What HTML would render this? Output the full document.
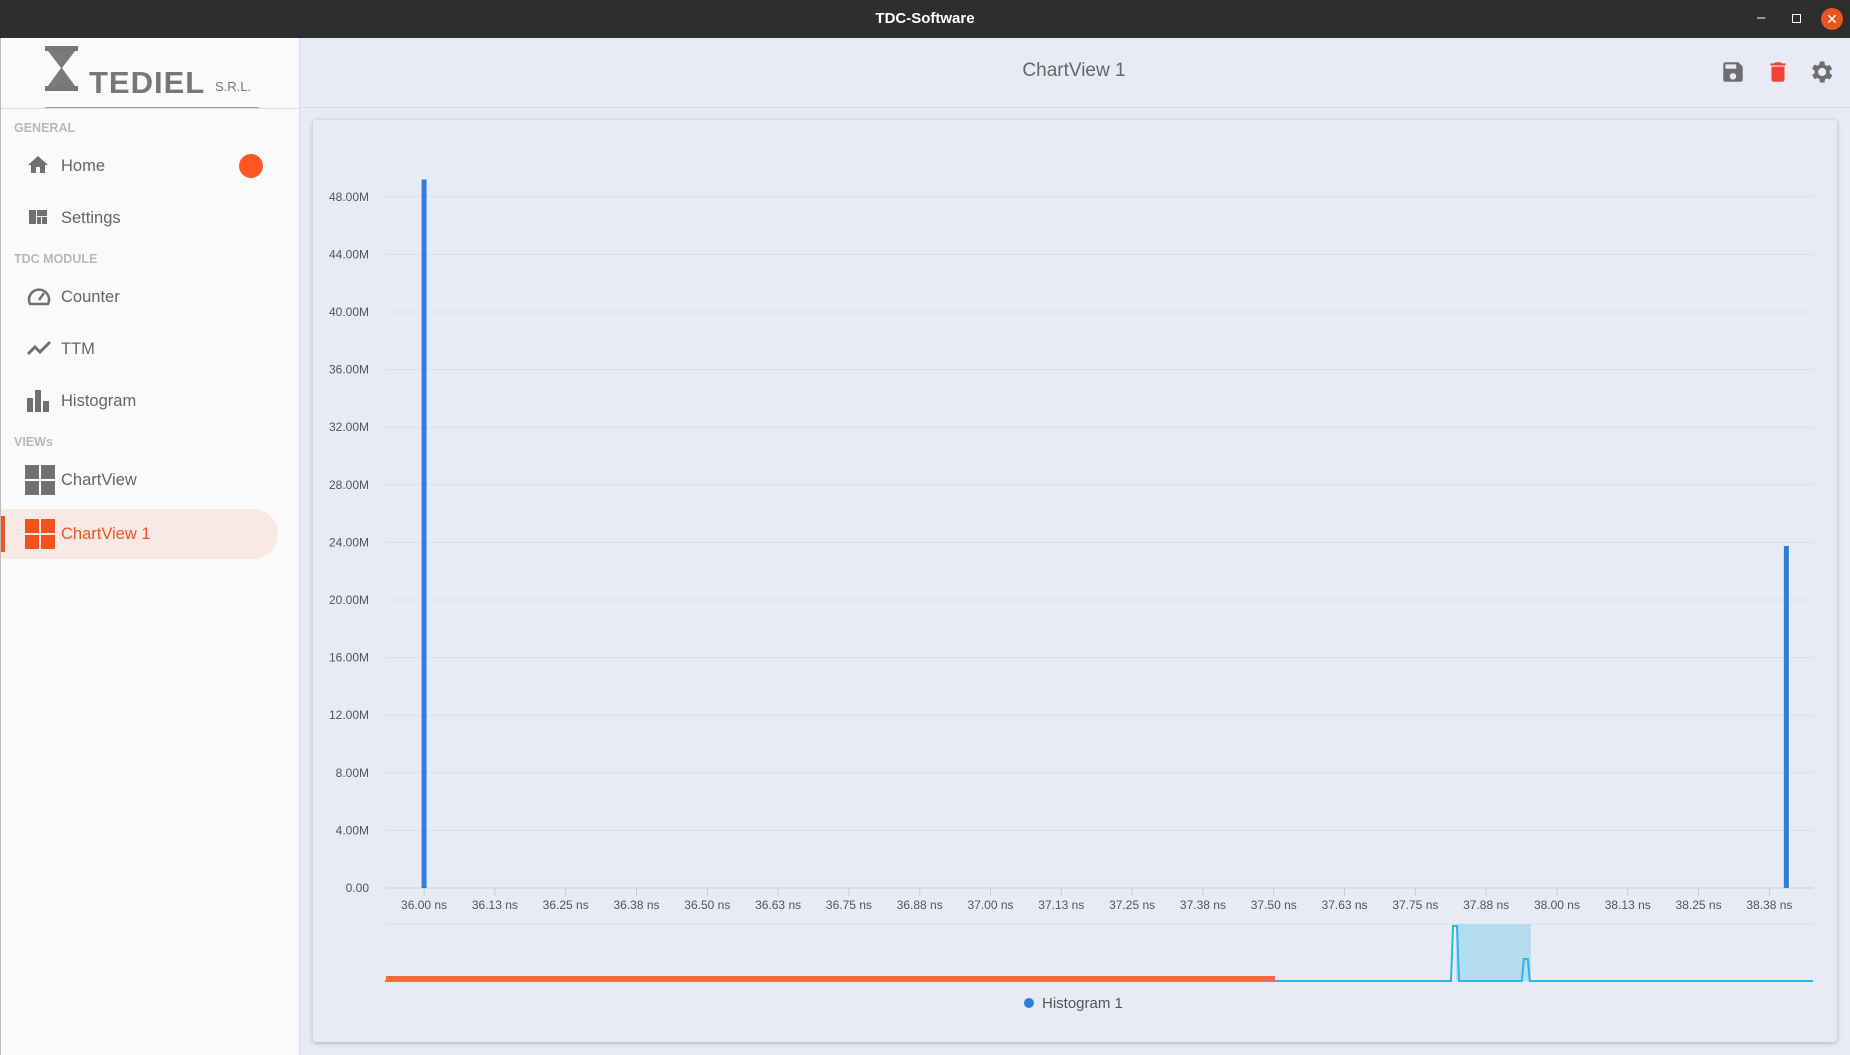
<!DOCTYPE html>
<html><head><meta charset="utf-8">
<style>
*{box-sizing:border-box;margin:0;padding:0}
body{width:1850px;height:1055px;overflow:hidden;font-family:"Liberation Sans","DejaVu Sans",sans-serif;background:#e8eaf5;position:relative}
#titlebar{position:absolute;left:0;top:0;width:1850px;height:38px;background:#2f2e2e;color:#fff;font-weight:bold;font-size:15px;text-align:center;line-height:38px}
#sidebar{position:absolute;left:0;top:38px;width:300px;height:1017px;background:#fafafa;border-right:1px solid #ddd;border-left:1px solid #bbb}
.sec{position:absolute;left:13px;font-size:12.5px;font-weight:bold;color:#b8b8b8}
.item{position:absolute;left:0;width:277px;height:50px;line-height:50px;font-size:16.5px;color:#666}
.item span.t{position:absolute;left:60px}
.item svg{position:absolute;left:25px;top:12px}
#header{position:absolute;left:300px;top:38px;width:1550px;height:70px;border-bottom:1px solid #dcdde6;background:#e8eaf5}
#card{position:absolute;left:313px;top:120px;width:1524px;height:922px;background:#e8eaf5;box-shadow:0 1px 5px rgba(0,0,0,0.25);border-radius:3px}
</style></head><body>
<div id="titlebar">TDC-Software
<span style="position:absolute;left:1757px;top:-1px;font-weight:normal">–</span>
<span style="position:absolute;left:1792px;top:14px;width:9px;height:9px;border:1.5px solid #fff"></span>
<span style="position:absolute;left:1821px;top:8px;width:22px;height:22px;border-radius:50%;background:#e95420;line-height:22px;font-size:14px">✕</span>
</div>
<div id="sidebar">
 <div style="position:absolute;left:44px;top:8px;width:214px;height:56px">
  <svg width="40" height="46" viewBox="0 0 40 46"><rect x="0" y="0" width="33" height="5" fill="#777"/><rect x="0" y="40" width="33" height="5" fill="#777"/><path d="M3 5 L30 5 L17 22 L30 40 L3 40 L16 22Z" fill="#7a7a7a"/></svg>
  <span style="position:absolute;left:44px;top:19px;font-size:31px;font-weight:bold;color:#777;letter-spacing:1px">TEDIEL</span>
  <span style="position:absolute;left:170px;top:33px;font-size:13px;color:#777">S.R.L.</span>
  <div style="position:absolute;left:0;top:61px;width:214px;height:1.5px;background:#999"></div>
 </div>
 <div style="position:absolute;left:0;top:70px;width:299px;height:1px;background:#ddd"></div>
 <div class="sec" style="top:83px">GENERAL</div>
 <div class="item" style="top:103px"><svg width="24" height="24" viewBox="0 0 24 24"><path d="M10 20v-6h4v6h5v-8h3L12 3 2 12h3v8z" fill="#707070"/></svg><span class="t">Home</span><span style="position:absolute;left:238px;top:13px;width:24px;height:24px;border-radius:50%;background:#ff5722"></span></div>
 <div class="item" style="top:155px"><svg width="24" height="24" viewBox="0 0 24 24"><path d="M3 5h7v14H3zM11 5h10v6H11zM11 12h4v7h-4zM16 12h5v7h-5z" fill="#707070"/></svg><span class="t">Settings</span></div>
 <div class="sec" style="top:214px">TDC MODULE</div>
 <div class="item" style="top:234px"><svg width="26" height="24" viewBox="0 0 26 24"><path d="M4 20 A10 10 0 1 1 22 20 Z" fill="none" stroke="#707070" stroke-width="2.5"/><path d="M13 16 L18 9" stroke="#707070" stroke-width="2.5"/></svg><span class="t">Counter</span></div>
 <div class="item" style="top:286px"><svg width="28" height="24" viewBox="0 0 28 24"><path d="M2 18 L9 11 L14 16 L24 6" fill="none" stroke="#707070" stroke-width="3"/></svg><span class="t">TTM</span></div>
 <div class="item" style="top:338px"><svg width="26" height="24" viewBox="0 0 26 24"><rect x="1" y="10" width="6" height="14" fill="#707070"/><rect x="9" y="2" width="6" height="22" fill="#707070"/><rect x="17" y="13" width="6" height="11" fill="#707070"/></svg><span class="t">Histogram</span></div>
 <div class="sec" style="top:397px">VIEWs</div>
 <div class="item" style="top:417px"><svg width="30" height="30" viewBox="0 0 30 30" style="left:24px;top:10px"><rect x="0" y="0" width="14" height="14" fill="#707070"/><rect x="16" y="0" width="14" height="14" fill="#707070"/><rect x="0" y="16" width="14" height="14" fill="#707070"/><rect x="16" y="16" width="14" height="14" fill="#707070"/></svg><span class="t">ChartView</span></div>
 <div class="item" style="top:471px;background:#f8e9e6;border-radius:0 25px 25px 0;color:#f4511e"><span style="position:absolute;left:0;top:7px;width:4px;height:36px;background:#f4511e"></span><svg width="30" height="30" viewBox="0 0 30 30" style="left:24px;top:10px"><rect x="0" y="0" width="14" height="14" fill="#f4511e"/><rect x="16" y="0" width="14" height="14" fill="#f4511e"/><rect x="0" y="16" width="14" height="14" fill="#f4511e"/><rect x="16" y="16" width="14" height="14" fill="#f4511e"/></svg><span class="t">ChartView 1</span></div>
</div>
<div id="header">
 <div style="position:absolute;left:0;width:1548px;text-align:center;top:22px;font-size:19px;color:#666">ChartView 1</div>
 <svg style="position:absolute;left:1420px;top:21px" width="26" height="26" viewBox="0 0 24 24"><path d="M17 3H5a2 2 0 0 0-2 2v14a2 2 0 0 0 2 2h14a2 2 0 0 0 2-2V7zm-5 16a3 3 0 1 1 0-6 3 3 0 0 1 0 6zm3-10H5V5h10z" fill="#6e6e6e"/></svg>
 <svg style="position:absolute;left:1465px;top:21px" width="26" height="26" viewBox="0 0 24 24"><path d="M6 19a2 2 0 0 0 2 2h8a2 2 0 0 0 2-2V7H6zM19 4h-3.5l-1-1h-5l-1 1H5v2h14z" fill="#f44336"/></svg>
 <svg style="position:absolute;left:1507px;top:20px" width="28" height="28" viewBox="0 0 24 24"><path d="M19.4 13a7.5 7.5 0 0 0 0-2l2.1-1.6-2-3.5-2.5 1a7 7 0 0 0-1.7-1L15 3h-4l-.4 2.6a7 7 0 0 0-1.7 1l-2.5-1-2 3.5L6.6 11a7.5 7.5 0 0 0 0 2l-2.1 1.6 2 3.5 2.5-1a7 7 0 0 0 1.7 1L11 21h4l.4-2.6a7 7 0 0 0 1.7-1l2.5 1 2-3.5zM13 15.5a3.5 3.5 0 1 1 0-7 3.5 3.5 0 0 1 0 7z" fill="#6e6e6e"/></svg>
</div>
<div id="card"></div>
<svg id="chart" width="1850" height="1055" style="position:absolute;left:0;top:0" font-family="Liberation Sans, sans-serif"></svg>
<script>
const binCenters=[36.0,38.405];
const counts=[49.2,23.75];
const yTicks=[0,4,8,12,16,20,24,28,32,36,40,44,48];
const xTickLabels=["36.00","36.13","36.25","36.38","36.50","36.63","36.75","36.88","37.00","37.13","37.25","37.38","37.50","37.63","37.75","37.88","38.00","38.13","38.25","38.38"];
const navSpikes=[37.820,37.945];
const navSpikeHeights=[1,0.4];
const navSelection=[37.822,37.954];
const NS='http://www.w3.org/2000/svg';
const svg=document.getElementById('chart');
const L=385,R=1813,T=150,B=888;
const x0=35.931,x1=38.452;
const X=v=>L+(v-x0)/(x1-x0)*(R-L);
const Y=v=>B-v/4*57.6;
function mk(tag,a,p){const e=document.createElementNS(NS,tag);for(const k in a)e.setAttribute(k,a[k]);(p||svg).appendChild(e);return e;}
yTicks.forEach((t,i)=>{
 const g=mk('line',{x1:L,x2:R,y1:Y(t),y2:Y(t),stroke:i==0?'#d0d0d8':'#dcdde6','stroke-width':1});
 
 
 const tx=mk('text',{x:369,y:Y(t)+4,'text-anchor':'end','font-size':12,fill:'#555'});
 tx.textContent=t==0?'0.00':t.toFixed(2)+'M';
 
 
});
xTickLabels.forEach((lb,i)=>{
 const v=36+i*0.125;
 const tk=mk('line',{x1:X(v),x2:X(v),y1:B,y2:B+8,stroke:'#ccc'});
 
 
 const tx=mk('text',{x:X(v),y:909,'text-anchor':'middle','font-size':12,fill:'#555'});
 tx.textContent=lb+' ns';
 
 
});
binCenters.forEach((c,i)=>{
 const r=mk('rect',{x:X(c)-2.5,y:Y(counts[i]),width:5,height:B-Y(counts[i]),fill:'#2f7ed8'});
 
 
});
const NT=924,NB=981;
const nl=mk('line',{x1:L,x2:R,y1:NT,y2:NT,stroke:'#dcdde6'});


const sel=mk('rect',{x:X(navSelection[0]),y:NT,width:X(navSelection[1])-X(navSelection[0]),height:NB-NT,fill:'#b3dcef'});


let d='M'+L+' '+NB;
navSpikes.forEach((s,i)=>{const xs=X(s),top=NB-navSpikeHeights[i]*55;d+=` L${xs-4} ${NB} L${xs-2} ${top} L${xs+2} ${top} L${xs+4} ${NB}`;});
d+=' L'+R+' '+NB;
const nav=mk('path',{d:d,fill:'none',stroke:'#29b6e8','stroke-width':2});


const sb=mk('rect',{x:386,y:976,width:889,height:5,fill:'#f4693e'});


const ld=mk('circle',{cx:1029,cy:1003,r:5,fill:'#2f7ed8'});


const lt=mk('text',{x:1042,y:1008,'font-size':15,fill:'#555'});
lt.textContent='Histogram 1';


</script>
</body></html>
